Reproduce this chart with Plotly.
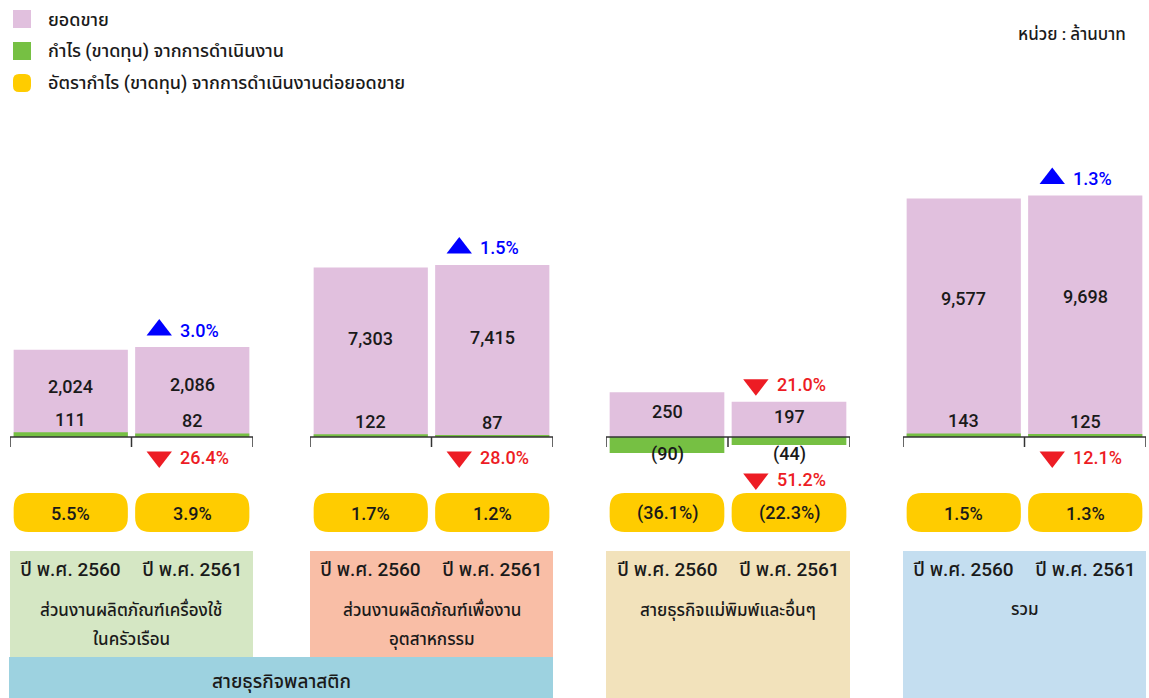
import plotly.graph_objects as go

# ---------------------------------------------------------------------------
# Data (million baht)
# ---------------------------------------------------------------------------

groups = [
    "ส่วนงานผลิตภัณฑ์เครื่องใช้<br>ในครัวเรือน",
    "ส่วนงานผลิตภัณฑ์เพื่องาน<br>อุตสาหกรรม",
    "สายธุรกิจแม่พิมพ์และอื่นๆ",
    "รวม",
]
years = ["ปี พ.ศ. 2560", "ปี พ.ศ. 2561"]
sales_2560 = [2024, 7303, 250, 9577]
sales_2561 = [2086, 7415, 197, 9698]
profit_2560 = [111, 122, -90, 143]
profit_2561 = [82, 87, -44, 125]
margin_2560 = [5.5, 1.7, -36.1, 1.5]
margin_2561 = [3.9, 1.2, -22.3, 1.3]
sales_change = [3.0, 1.5, -21.0, 1.3]
profit_change = [-26.4, -28.0, -51.2, -12.1]

legend_labels = [
    "ยอดขาย",
    "กำไร (ขาดทุน) จากการดำเนินงาน",
    "อัตรากำไร (ขาดทุน) จากการดำเนินงานต่อยอดขาย",
]
unit_label = "หน่วย : ล้านบาท"
plastic_label = "สายธุรกิจพลาสติก"

# ---------------------------------------------------------------------------
# Layout constants (pixels)
# ---------------------------------------------------------------------------

W, H = 1149, 698
FONT = "Roboto, 'Noto Sans Thai', 'Liberation Sans', sans-serif"
TXT = "#1a1a1a"
PINK, GREEN, YELLOW = "#E1C0DE", "#76C043", "#FFCC00"
BLUE, RED = "#0000FF", "#ED1C24"
BOX_COLORS = ["#D5E7C4", "#F9BEA6", "#F2E2BB", "#C4DEF0"]
PLASTIC_COLOR = "#9DD2E0"

GROUP_X = [(10, 253), (310, 553), (606, 850), (903, 1146)]
PX_PER_UNIT = [0.0431, 0.0232, 0.179, 0.0249]   # drawing scale per panel
PLOT_TOP, PLOT_BOTTOM, BASELINE = 120, 480, 437
CAT_PX = 121.5                                   # pixels per x unit


def py(px):
    return 1 - px / H


def fnt(size, color=TXT):
    return dict(size=size, color=color, family=FONT, weight=500)


def label(text, x, y, xref, yref, size, color=TXT, xanchor="center", yanchor="middle", **kw):
    return dict(text=text, x=x, y=y, xref=xref, yref=yref, xanchor=xanchor, yanchor=yanchor,
                showarrow=False, font=fnt(size, color), **kw)


def rounded_path(a0, a1, b0, b1, rx, ry):
    return (f"M{a0 + rx},{b1} L{a1 - rx},{b1} Q{a1},{b1} {a1},{b1 - ry} "
            f"L{a1},{b0 + ry} Q{a1},{b0} {a1 - rx},{b0} L{a0 + rx},{b0} "
            f"Q{a0},{b0} {a0},{b0 + ry} L{a0},{b1 - ry} Q{a0},{b1} {a0 + rx},{b1} Z")


fig = go.Figure()
shapes, annotations = [], []

for i in range(4):
    n = "" if i == 0 else str(i + 1)
    xa, ya = "x" + n, "y" + n
    k = PX_PER_UNIT[i]
    x0, x1 = GROUP_X[i]
    fig.update_layout({
        f"xaxis{n}": dict(domain=[x0 / W, x1 / W], range=[-0.5, 1.5], visible=False,
                          anchor=ya, fixedrange=True),
        f"yaxis{n}": dict(domain=[py(PLOT_BOTTOM), py(PLOT_TOP)], visible=False, anchor=xa,
                          range=[-(PLOT_BOTTOM - BASELINE) / k, (BASELINE - PLOT_TOP) / k],
                          fixedrange=True),
    })
    sales = [sales_2560[i], sales_2561[i]]
    profit = [profit_2560[i], profit_2561[i]]
    margin = [margin_2560[i], margin_2561[i]]

    fig.add_trace(go.Bar(x=[0, 1], y=sales, width=0.94, marker=dict(color=PINK, line_width=0),
                         xaxis=xa, yaxis=ya, showlegend=False, hoverinfo="skip"))
    fig.add_trace(go.Bar(x=[0, 1], y=profit, width=0.94, marker=dict(color=GREEN, line_width=0),
                         xaxis=xa, yaxis=ya, showlegend=False, hoverinfo="skip"))

    # bracket under the bars
    for sx0, sy0, sx1, sy1 in [(-0.5, 0, 1.5, 0), (-0.5, 0, -0.5, -10 / k),
                               (0.5, 0, 0.5, -10 / k), (1.5, 0, 1.5, -10 / k)]:
        shapes.append(dict(type="line", xref=xa, yref=ya, x0=sx0, y0=sy0, x1=sx1, y1=sy1,
                           line=dict(color="#333333", width=1.5)))

    for j in range(2):
        annotations.append(label(f"{sales[j]:,}", j, sales[j] * 0.58, xa, ya, 18))
        if profit[j] >= 0:
            annotations.append(label(f"{profit[j]:,}", j, profit[j], xa, ya, 18,
                                     yanchor="bottom"))
        else:
            annotations.append(label(f"({abs(profit[j]):,})", j, 0, xa, ya, 18,
                                     yanchor="top", yshift=-4))

        # margin pill
        shapes.append(dict(type="path", xref=xa, yref="paper", fillcolor=YELLOW, line_width=0,
                           layer="below",
                           path=rounded_path(j - 0.47, j + 0.47, py(532), py(493),
                                             15 / CAT_PX, 15 / H)))
        m = margin[j]
        mtxt = f"{m:.1f}%" if m >= 0 else f"({abs(m):.1f}%)"
        annotations.append(label(mtxt, j, py(513), xa, "paper", 18))

        # year labels
        annotations.append(label(years[j], j, py(569), xa, "paper", 19))

    # change markers
    tri_x = 1 - 33 / CAT_PX
    s_y = sales[1] + 17 / k
    p_y = (-20 if profit[1] >= 0 else -42) / k
    for val, yy in [(sales_change[i], s_y), (profit_change[i], p_y)]:
        col = BLUE if val >= 0 else RED
        fig.add_trace(go.Scatter(x=[tri_x], y=[yy], mode="markers", xaxis=xa, yaxis=ya,
                                 marker=dict(symbol="triangle-up" if val >= 0 else "triangle-down",
                                             size=22, color=col),
                                 cliponaxis=False, showlegend=False, hoverinfo="skip"))
        annotations.append(label(f"{abs(val):.1f}%", 1, yy, xa, ya, 18, col,
                                 xanchor="left", xshift=-14))

    # bottom box
    box_bottom = 657 if i < 2 else 698
    shapes.append(dict(type="rect", xref=xa, yref="paper", x0=-0.5, x1=1.5,
                       y0=py(box_bottom), y1=py(551), fillcolor=BOX_COLORS[i],
                       line_width=0, layer="below"))
    for li, line in enumerate(groups[i].split("<br>")):
        annotations.append(label(line, 0.5, py(609 + 30 * li), xa, "paper", 17))

# plastic business band
shapes.append(dict(type="rect", xref="paper", yref="paper", x0=9 / W, x1=553 / W,
                   y0=0, y1=py(657), fillcolor=PLASTIC_COLOR, line_width=0, layer="below"))
annotations.append(label(plastic_label, 281 / W, py(681), "paper", "paper", 19))

# legend
for idx, (lab, col) in enumerate(zip(legend_labels, [PINK, GREEN, YELLOW])):
    top = 10 + idx * 32
    if idx < 2:
        shapes.append(dict(type="rect", xref="paper", yref="paper", x0=13 / W, x1=31 / W,
                           y0=py(top + 18), y1=py(top), fillcolor=col, line_width=0))
    else:
        shapes.append(dict(type="path", xref="paper", yref="paper", fillcolor=col, line_width=0,
                           path=rounded_path(13 / W, 31 / W, py(top + 18), py(top), 6 / W, 6 / H)))
    annotations.append(label(lab, 46 / W, py(top + 9), "paper", "paper", 18, xanchor="left"))

annotations.append(label(unit_label, 1128 / W, py(34), "paper", "paper", 17, xanchor="right"))

fig.update_layout(
    width=W, height=H, margin=dict(l=0, r=0, t=0, b=0),
    paper_bgcolor="white", plot_bgcolor="rgba(0,0,0,0)",
    barmode="overlay", showlegend=False,
    font=dict(family=FONT, color=TXT),
    shapes=shapes, annotations=annotations,
)

fig.write_html("out.html", config={"displayModeBar": False},
               post_script="document.body.style.margin='0';")
